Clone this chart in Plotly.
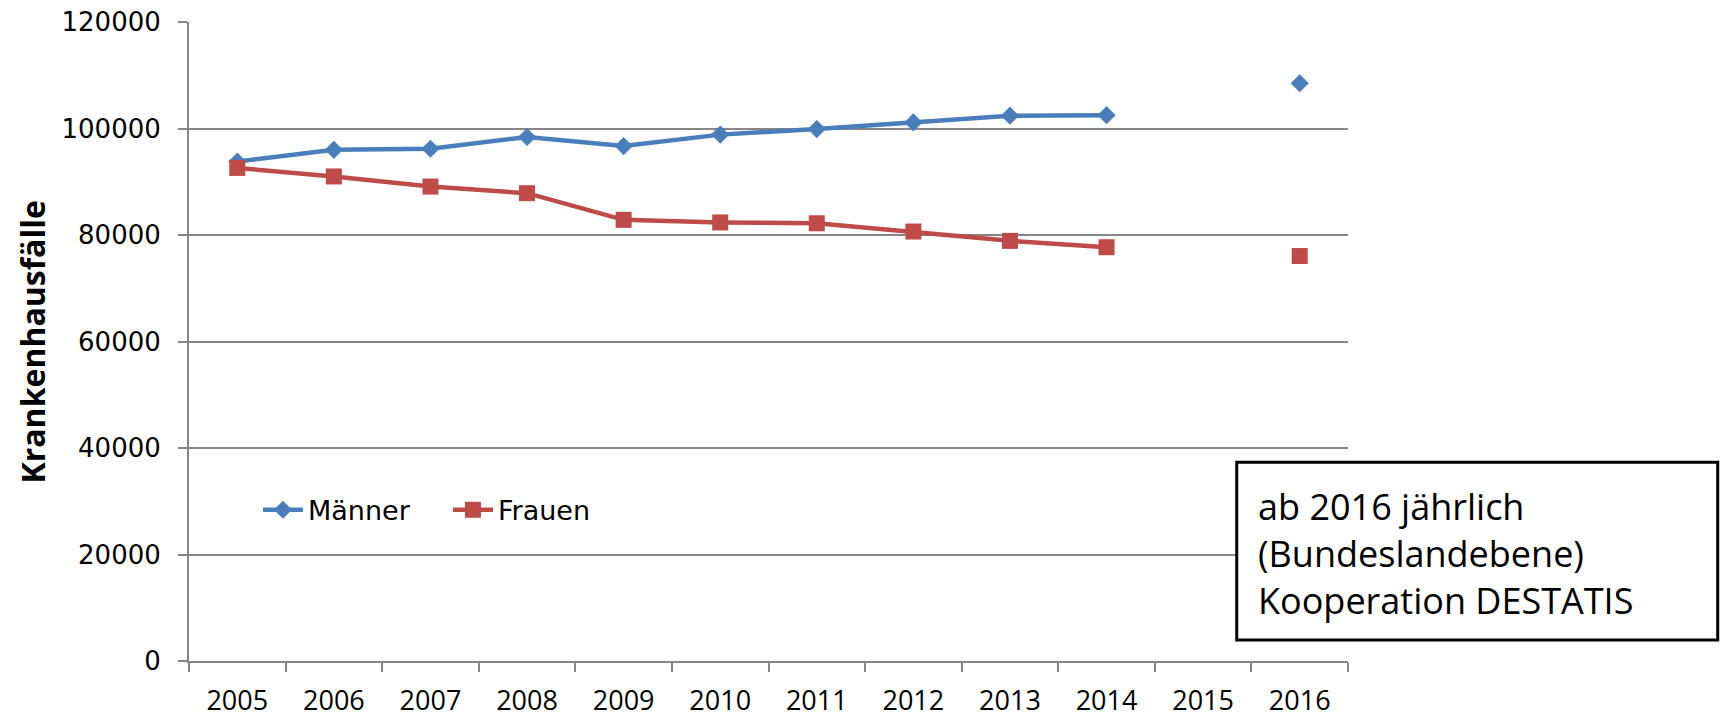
import plotly.graph_objects as go

# Hospital cases per year, split by sex (2015 not collected)
years = ["2005", "2006", "2007", "2008", "2009", "2010",
         "2011", "2012", "2013", "2014", "2015", "2016"]
maenner = [93800, 96000, 96200, 98400, 96700, 98850,
           99900, 101150, 102400, 102500, None, 108500]
frauen = [92600, 91000, 89100, 87850, 82850, 82350,
          82200, 80650, 78900, 77700, None, 76050]

y_ticks = [0, 20000, 40000, 60000, 80000, 100000, 120000]

BLUE = "#4A7EBB"
RED = "#BE4B48"
GRID = "#868686"

fig = go.Figure()
fig.add_trace(go.Scatter(
    x=years, y=maenner, name="Männer", mode="lines+markers",
    line=dict(color=BLUE, width=4.5),
    marker=dict(symbol="diamond", size=14, color=BLUE),
    connectgaps=False,
))
fig.add_trace(go.Scatter(
    x=years, y=frauen, name="Frauen", mode="lines+markers",
    line=dict(color=RED, width=4.5),
    marker=dict(symbol="square", size=16, color=RED),
    connectgaps=False,
))

fig.update_layout(
    width=1721, height=717,
    margin=dict(l=189, r=373, t=22, b=56, autoexpand=False),
    paper_bgcolor="white", plot_bgcolor="white",
    showlegend=True,
    legend=dict(
        orientation="h", x=0.0595, y=0.236, xanchor="left", yanchor="middle",
        font=dict(family="DejaVu Sans", size=27, color="black"),
        bgcolor="rgba(0,0,0,0)", itemwidth=40,
        entrywidth=135, entrywidthmode="pixels",
    ),
    font=dict(family="Open Sans", color="black"),
)

fig.update_xaxes(
    type="category", categoryorder="array", categoryarray=years,
    range=[-0.5, 11.5], automargin=False,
    tickson="boundaries", ticks="outside", ticklen=9, tickwidth=2,
    tickcolor=GRID, showline=True, linecolor=GRID, linewidth=2,
    showgrid=False, zeroline=False,
    tickfont=dict(family="Open Sans", size=27, color="black"),
    ticklabelstandoff=15,
)
fig.update_yaxes(
    range=[0, 120000], tickvals=y_ticks, ticktext=[str(v) for v in y_ticks],
    automargin=False,
    ticks="outside", ticklen=9, tickwidth=2, tickcolor=GRID,
    showline=True, linecolor=GRID, linewidth=2,
    showgrid=True, gridcolor=GRID, gridwidth=2, zeroline=False,
    tickfont=dict(family="DejaVu Sans", size=26, color="black"),
    ticklabelstandoff=12,
)

# Axis title
fig.add_annotation(
    text="<b>Krankenhausfälle</b>", xref="paper", yref="paper",
    x=-0.1346, y=0.5, xanchor="center", yanchor="middle",
    textangle=-90, showarrow=False,
    font=dict(family="Open Sans", size=32, color="black"),
)

# Note box
fig.add_shape(
    type="rect", xref="paper", yref="paper",
    x0=0.904, x1=1.319, y0=0.033, y1=0.311,
    line=dict(color="black", width=3), fillcolor="white", layer="above",
)
fig.add_annotation(
    text="ab 2016 jährlich<br>(Bundeslandebene)<br>Kooperation DESTATIS",
    xref="paper", yref="paper", x=0.921, y=0.168,
    xanchor="left", yanchor="middle", align="left", showarrow=False,
    font=dict(family="Open Sans", size=36, color="black"),
)

fig.write_html("out.html")
